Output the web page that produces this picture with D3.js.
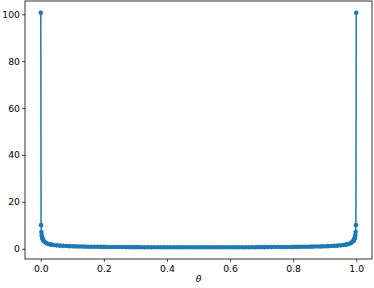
<!DOCTYPE html>
<html>
<head>
<meta charset="utf-8">
<script src="https://cdn.jsdelivr.net/npm/d3@7"></script>
<style>
  body { margin: 0; background: #fff; }
  svg { display: block; font-family: "DejaVu Sans", sans-serif; }
</style>
</head>
<body>
<svg id="chart" width="374" height="288"></svg>
<script>
// theta values, left half (dense near 0)
const thetaLeft = [0.00001, 0.001, 0.002, 0.003, 0.004, 0.005, 0.006, 0.007, 0.008,
  0.01, 0.015, 0.02, 0.025, 0.03, 0.035, 0.04, 0.05, 0.06, 0.07, 0.08, 0.09, 0.10,
  0.11, 0.12, 0.13, 0.14, 0.15, 0.16, 0.17, 0.18, 0.19, 0.20,
  0.21, 0.22, 0.23, 0.24, 0.25, 0.26, 0.27, 0.28, 0.29, 0.30,
  0.31, 0.32, 0.33, 0.34, 0.35, 0.36, 0.37, 0.38, 0.39, 0.40,
  0.41, 0.42, 0.43, 0.44, 0.45, 0.46, 0.47, 0.48, 0.49, 0.50];
const densityLeft = [100.66, 10.07, 7.12, 5.82, 5.04, 4.51, 4.12, 3.82, 3.57,
  3.199, 2.62, 2.274, 2.04, 1.866, 1.73, 1.624, 1.461, 1.340, 1.248, 1.173, 1.112, 1.061,
  1.017, 0.979, 0.946, 0.917, 0.891, 0.868, 0.847, 0.828, 0.811, 0.796,
  0.781, 0.768, 0.756, 0.745, 0.735, 0.726, 0.717, 0.709, 0.701, 0.695,
  0.688, 0.682, 0.677, 0.672, 0.667, 0.663, 0.659, 0.656, 0.653, 0.650,
  0.647, 0.645, 0.643, 0.641, 0.640, 0.639, 0.638, 0.637, 0.637, 0.637];
// right half
const thetaRight = [0.51, 0.52, 0.53, 0.54, 0.55, 0.56, 0.57, 0.58, 0.59, 0.60,
  0.61, 0.62, 0.63, 0.64, 0.65, 0.66, 0.67, 0.68, 0.69, 0.70,
  0.71, 0.72, 0.73, 0.74, 0.75, 0.76, 0.77, 0.78, 0.79, 0.80,
  0.81, 0.82, 0.83, 0.84, 0.85, 0.86, 0.87, 0.88, 0.89, 0.90,
  0.91, 0.92, 0.93, 0.94, 0.95, 0.96, 0.965, 0.97, 0.975, 0.98, 0.985, 0.99,
  0.992, 0.993, 0.994, 0.995, 0.996, 0.997, 0.998, 0.999, 0.99999];
const densityRight = [0.637, 0.637, 0.638, 0.639, 0.640, 0.641, 0.643, 0.645, 0.647, 0.650,
  0.653, 0.656, 0.659, 0.663, 0.667, 0.672, 0.677, 0.682, 0.688, 0.695,
  0.701, 0.709, 0.717, 0.726, 0.735, 0.745, 0.756, 0.768, 0.781, 0.796,
  0.811, 0.828, 0.847, 0.868, 0.891, 0.917, 0.946, 0.979, 1.017, 1.061,
  1.112, 1.173, 1.248, 1.340, 1.461, 1.624, 1.73, 1.866, 2.04, 2.274, 2.62, 3.199,
  3.57, 3.82, 4.12, 4.51, 5.04, 5.82, 7.12, 10.07, 100.66];
const xTicks = [0.0, 0.2, 0.4, 0.6, 0.8, 1.0];
const yTicks = [0, 20, 40, 60, 80, 100];

const data = thetaLeft.map((t, i) => [t, densityLeft[i]])
  .concat(thetaRight.map((t, i) => [t, densityRight[i]]));

const svg = d3.select("#chart");
const mLeft = 25, mRight = 372, mTop = 1, mBottom = 259;
const color = "#1f77b4";

const x = d3.scaleLinear().domain([-0.05, 1.05]).range([mLeft, mRight]);
const y = d3.scaleLinear().domain([-4.36, 105.66]).range([mBottom, mTop]);

// line + markers
svg.append("path")
  .datum(data)
  .attr("fill", "none")
  .attr("stroke", color)
  .attr("stroke-width", 1.5)
  .attr("d", d3.line().x(d => x(d[0])).y(d => y(d[1])));

svg.append("g")
  .selectAll("circle")
  .data(data)
  .join("circle")
  .attr("cx", d => x(d[0]))
  .attr("cy", d => y(d[1]))
  .attr("r", 2.3)
  .attr("fill", color);

// axes
const xAxis = d3.axisBottom(x).tickValues(xTicks).tickFormat(d3.format(".1f")).tickSize(3).tickPadding(3);
const yAxis = d3.axisLeft(y).tickValues(yTicks).tickFormat(d3.format("d")).tickSize(3).tickPadding(2);

const gx = svg.append("g").attr("transform", `translate(0,${mBottom})`).call(xAxis);
const gy = svg.append("g").attr("transform", `translate(${mLeft},0)`).call(yAxis);
[gx, gy].forEach(g => {
  g.select(".domain").remove();
  g.selectAll("text").attr("font-size", 9.3).attr("fill", "#000").attr("font-family", "DejaVu Sans");
  g.selectAll(".tick line").attr("stroke", "#000").attr("stroke-width", 0.7);
});

// frame
svg.append("rect")
  .attr("x", mLeft).attr("y", mTop)
  .attr("width", mRight - mLeft).attr("height", mBottom - mTop)
  .attr("fill", "none").attr("stroke", "#000").attr("stroke-width", 0.8);

// x label
svg.append("text")
  .attr("x", (mLeft + mRight) / 2)
  .attr("y", 282)
  .attr("text-anchor", "middle")
  .attr("font-size", 9.3)
  .attr("font-style", "italic")
  .text("θ");
</script>
</body>
</html>
